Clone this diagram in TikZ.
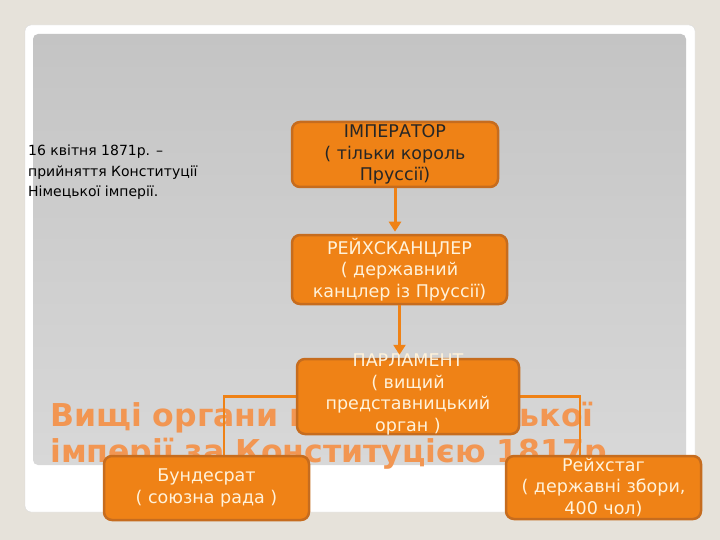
\documentclass[tikz,border=0pt]{standalone}
\usepackage{fontspec}
\setmainfont{DejaVu Sans}
\usetikzlibrary{arrows.meta}
\definecolor{bg}{RGB}{230,226,218}
\definecolor{org}{RGB}{239,130,22}
\definecolor{orgd}{RGB}{198,108,30}
\definecolor{cream}{RGB}{255,242,218}
\definecolor{ttl}{RGB}{242,150,82}
\definecolor{pantop}{RGB}{196,196,196}
\definecolor{panbot}{RGB}{216,216,216}
\pgfdeclarelayer{back}
\pgfdeclarelayer{front}
\pgfsetlayers{back,main,front}
\begin{document}
\begin{tikzpicture}[x=1pt,y=-1pt,
  obox/.style={draw=orgd, line width=2.5pt, fill=org, rounded corners=8pt, inner sep=0pt},
  btext/.style={align=center, font=\fontsize{17.5}{21.5}\selectfont, text=cream, inner sep=0pt},
  conn/.style={draw=org, line width=2.5pt},
  arr/.style={draw=org, line width=3pt, -{Triangle[length=10pt,width=12pt]}},
  ttext/.style={anchor=base west, font=\bfseries\fontsize{31.5}{35}\selectfont, text=ttl, inner sep=0pt}]
\useasboundingbox (0,0) rectangle (720,540);
\begin{pgfonlayer}{back}
\fill[bg] (0,0) rectangle (720,540);
\filldraw[fill=white, draw=black!15, rounded corners=6pt] (25,25) rectangle (695,512);
\shade[rounded corners=5pt, top color=pantop, bottom color=panbot] (33,34) rectangle (686,465);
% title
\node[ttext] (t1) at (50,426) {Вищі органи влади Німецької};
\node[ttext] (t2) at (50,462) {імперії за Конституцією 1817р};
% left note
\node[anchor=north west, align=left, inner sep=0pt, font=\fontsize{14}{20.5}\selectfont] (note) at (28,145)
  {16 квітня 1871р. –\\прийняття Конституції\\Німецької імперії.};
\end{pgfonlayer}
\begin{pgfonlayer}{front}
% boxes
\node[obox, minimum width=206pt, minimum height=65pt] (emp) at (395,154.5) {};
\node[obox, minimum width=215pt, minimum height=69pt] (kan) at (399.5,269.5) {};
\node[obox, minimum width=222pt, minimum height=75pt] (parl) at (408,396.5) {};
\node[obox, minimum width=195pt, minimum height=63pt] (rei) at (603.5,487.5) {};
\node[obox, minimum width=205pt, minimum height=64pt] (bund) at (206.5,488) {};
% box texts
\node[btext, text=black!85] (empt) at (emp.center) {ІМПЕРАТОР\\( тільки король\\Пруссії)};
\node[btext] (kant) at (kan.center) {РЕЙХСКАНЦЛЕР\\( державний\\канцлер із Пруссії)};
\node[btext] (parlt) at ([yshift=2pt]parl.center) {ПАРЛАМЕНТ\\( вищий\\представницький\\орган )};
\node[btext] (bundt) at (bund.center) {Бундесрат\\( союзна рада )};
\node[btext] (reit) at (rei.center) {Рейхстаг\\( державні збори,\\400 чол)};
% arrows
\draw[arr] (emp.south) -- ([yshift=2pt]emp.south |- kan.north);
\draw[arr] (kan.south) -- ([yshift=3pt]kan.south |- parl.north);
\end{pgfonlayer}
% connectors (main layer: above title, beneath boxes)
\draw[conn] (parl.west) -| ([xshift=17.5pt]bund.north);
\draw[conn] (parl.east) -| ([xshift=-23.5pt]rei.north);
\end{tikzpicture}
\end{document}
